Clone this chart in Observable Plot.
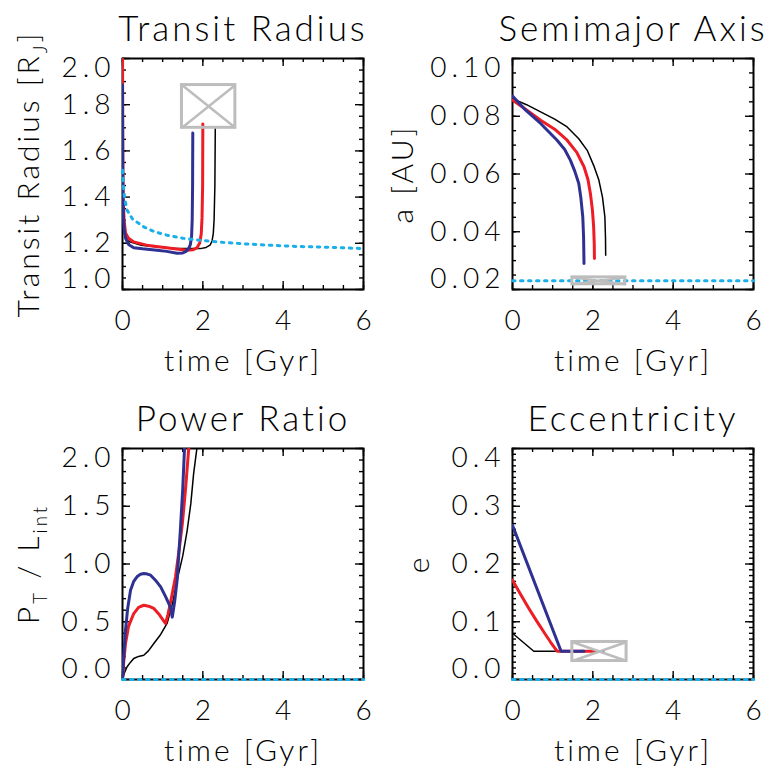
<!DOCTYPE html>
<html>
<head>
<meta charset="utf-8">
<script src="https://cdn.jsdelivr.net/npm/d3@7"></script>
<script src="https://cdn.jsdelivr.net/npm/@observablehq/plot@0.6"></script>
<style>
  html, body { margin: 0; padding: 0; background: #fff; }
  #root { position: relative; width: 781px; height: 781px; background: #fff; overflow: hidden; }
  #root svg { position: absolute; overflow: visible; background: transparent; }
  #root svg text { font-family: Lato, "Liberation Sans", sans-serif; font-weight: 300; fill: #000; letter-spacing: 3px; }
  #root g[aria-label="title"] text { letter-spacing: 5px; }
  #root g[aria-label="y-axis tick label"] text { letter-spacing: 5px; }
  #root g[aria-label="x-axis tick label"] text { letter-spacing: 0px; }
</style>
</head>
<body>
<div id="root"></div>
<script>
// ---------------- data (time in Gyr) ----------------
const xMajor = [0, 2, 4, 6];
const xDomain = [0, 6];

// Transit radius [R_J]
const radiusTicks = [1.0, 1.2, 1.4, 1.6, 1.8, 2.0];
const radiusBlue = [[0,1.885],[0.005,1.6],[0.01,1.42],[0.02,1.32],[0.04,1.26],[0.08,1.22],[0.15,1.195],[0.28,1.181],[0.5,1.176],[0.86,1.170],[1.1,1.165],[1.36,1.157],[1.5,1.158],[1.58,1.165],[1.65,1.178],[1.69,1.195],[1.72,1.23],[1.735,1.3],[1.745,1.45],[1.75,1.678]];
const radiusRed = [[0,2.1],[0.005,1.7],[0.01,1.5],[0.02,1.38],[0.04,1.3],[0.075,1.245],[0.15,1.222],[0.28,1.206],[0.6,1.192],[0.94,1.184],[1.3,1.176],[1.6,1.170],[1.75,1.172],[1.85,1.180],[1.92,1.2],[1.96,1.24],[1.98,1.31],[1.995,1.45],[2.0,1.716]];
const radiusBlack = [[0,1.5],[0.01,1.38],[0.025,1.3],[0.05,1.24],[0.1,1.215],[0.2,1.205],[0.45,1.192],[0.9,1.184],[1.3,1.179],[1.6,1.177],[1.94,1.177],[2.08,1.182],[2.18,1.192],[2.23,1.21],[2.26,1.242],[2.28,1.3],[2.3,1.45],[2.31,1.697]];
const radiusCyan = [[0,1.516],[0.03,1.43],[0.06,1.39],[0.11,1.345],[0.25,1.305],[0.53,1.271],[0.8,1.25],[1.11,1.235],[1.5,1.222],[1.94,1.213],[2.5,1.204],[3.0,1.198],[3.6,1.192],[4.4,1.186],[5.26,1.182],[6,1.177]];
const radiusBox = [1.48, 2.81, 1.70, 1.885];

// Semimajor axis [AU]
const smaTicks = [0.02, 0.04, 0.06, 0.08, 0.10];
const smaBlue = [[0,0.0870],[0.3,0.0825],[0.7,0.0775],[1.11,0.0717],[1.3,0.0685],[1.44,0.0648],[1.55,0.061],[1.65,0.0567],[1.7,0.052],[1.75,0.0451],[1.77,0.038],[1.78,0.029]];
const smaRed = [[0,0.0856],[0.35,0.0822],[0.7,0.0786],[1.05,0.0755],[1.36,0.0717],[1.6,0.0675],[1.78,0.0625],[1.88,0.058],[1.94,0.0532],[1.99,0.0475],[2.02,0.0417],[2.035,0.036],[2.04,0.0307]];
const smaBlack = [[0,0.0861],[0.35,0.0840],[0.7,0.0815],[1.05,0.0790],[1.36,0.0763],[1.65,0.0722],[1.86,0.0682],[2.02,0.063],[2.15,0.0579],[2.24,0.052],[2.30,0.0451],[2.315,0.038],[2.32,0.0319]];
const smaCyan = [[0,0.023],[6,0.023]];
const smaBox = [1.49, 2.81, 0.0218, 0.0242];

// Power ratio P_T / L_int
const powerTicks = [0.0, 0.5, 1.0, 1.5, 2.0];
const powerBlue = [[0,0],[0.03,0.2],[0.075,0.427],[0.13,0.62],[0.2,0.773],[0.28,0.85],[0.36,0.889],[0.45,0.912],[0.53,0.918],[0.62,0.913],[0.70,0.903],[0.82,0.86],[0.95,0.802],[1.07,0.72],[1.19,0.629],[1.24,0.54],[1.30,0.68],[1.36,0.86],[1.44,1.29],[1.5,1.65],[1.55,2.05]];
const powerRed = [[0,0],[0.03,0.15],[0.075,0.312],[0.15,0.46],[0.28,0.571],[0.4,0.625],[0.53,0.643],[0.65,0.635],[0.78,0.615],[0.92,0.56],[1.07,0.485],[1.13,0.56],[1.19,0.658],[1.32,0.889],[1.42,1.15],[1.49,1.35],[1.57,1.65],[1.66,2.05]];
const powerBlack = [[0,0],[0.05,0.06],[0.115,0.11],[0.2,0.15],[0.28,0.182],[0.4,0.2],[0.53,0.21],[0.65,0.25],[0.78,0.312],[0.95,0.39],[1.11,0.485],[1.24,0.65],[1.36,0.86],[1.5,1.07],[1.61,1.29],[1.7,1.52],[1.77,1.78],[1.87,2.05]];
const powerCyan = [[0,0],[6,0]];

// Eccentricity
const eccTicks = [0.0, 0.1, 0.2, 0.3, 0.4];
const eccBlue = [[0,0.267],[1.21,0.049],[1.78,0.049]];
const eccRed = [[0,0.172],[0.2,0.1475],[0.4,0.124],[0.6,0.1015],[0.8,0.080],[0.95,0.0645],[1.11,0.049],[2.02,0.049]];
const eccBlack = [[0,0.080],[0.53,0.049],[2.27,0.049]];
const eccCyan = [[0,0],[6,0]];
const eccBox = [1.49, 2.84, 0.032, 0.065];

// ---------------- styling ----------------
const BLUE = "#2e3192", RED = "#ee1c25", BLACK = "#000", CYAN = "#1aaeea", GRAY = "#bdbdbd";
const W = 390, H = 390, ML = 122, MR = 27, MT = 58, MB = 101;
const FW = W - ML - MR, FH = H - MT - MB;

function panel(cfg) {
  const {title, ylabel, labelDx, yDomain, yTicks, yMinorStep, xMinorStep, fmt, blue, red, black, cyan, box} = cfg;
  const xMinor = d3.range(xDomain[0], xDomain[1] + 1e-9, xMinorStep);
  const yMinor = d3.range(yDomain[0], yDomain[1] + 1e-9, yMinorStep);
  const tk = {stroke: BLACK, strokeWidth: 1.4};
  const yax = {tickSize: 0, tickPadding: 7, fontSize: 28, label: null, tickFormat: fmt};
  const marks = [
    // minor & major ticks, pointing inward on all four sides
    Plot.ruleX(xMinor, {x: d => d, insetTop: FH - 4, ...tk}),
    Plot.ruleX(xMinor, {x: d => d, insetBottom: FH - 4, ...tk}),
    Plot.ruleX(xMajor, {x: d => d, insetTop: FH - 8, ...tk}),
    Plot.ruleX(xMajor, {x: d => d, insetBottom: FH - 8, ...tk}),
    Plot.ruleY(yMinor, {y: d => d, insetRight: FW - 4, ...tk}),
    Plot.ruleY(yMinor, {y: d => d, insetLeft: FW - 4, ...tk}),
    Plot.ruleY(yTicks, {y: d => d, insetRight: FW - 8, ...tk}),
    Plot.ruleY(yTicks, {y: d => d, insetLeft: FW - 8, ...tk}),
    Plot.frame({stroke: BLACK, strokeWidth: 2}),
    Plot.axisX(xMajor, {tickSize: 0, tickPadding: 21, fontSize: 28, label: null, tickFormat: d => String(d)}),
    Plot.axisY(yTicks.slice(1, -1), yax),
    Plot.axisY(yTicks.slice(-1), {...yax, dy: 10}),
    Plot.axisY(yTicks.slice(0, 1), {...yax, dy: -10}),
    Plot.line(black, {x: d => d[0], y: d => d[1], stroke: BLACK, strokeWidth: 1.5, clip: true}),
    Plot.line(red, {x: d => d[0], y: d => d[1], stroke: RED, strokeWidth: 3, clip: true}),
    Plot.line(blue, {x: d => d[0], y: d => d[1], stroke: BLUE, strokeWidth: 3, clip: true}),
    Plot.line(cyan, {x: d => d[0], y: d => d[1], stroke: CYAN, strokeWidth: 3, strokeDasharray: "2.5,5.5"}),
    Plot.text([title], {text: d => d, frameAnchor: "top", dy: -18, lineAnchor: "bottom", fontSize: 35, ariaLabel: "title"}),
    Plot.text(["time [Gyr]"], {text: d => d, frameAnchor: "bottom", dy: 81, lineAnchor: "bottom", fontSize: 30, ariaLabel: "xlabel"}),
    Plot.text([ylabel], {text: d => d, frameAnchor: "left", dx: -labelDx, rotate: -90, textAnchor: "middle", lineAnchor: "bottom", fontSize: 30, ariaLabel: "ylabel"})
  ];
  if (box) {
    const b = [{x1: box[0], x2: box[1], y1: box[2], y2: box[3]}];
    marks.push(
      Plot.rect(b, {x1: "x1", x2: "x2", y1: "y1", y2: "y2", fill: "none", stroke: GRAY, strokeWidth: 3}),
      Plot.link(b, {x1: "x1", y1: "y1", x2: "x2", y2: "y2", stroke: GRAY, strokeWidth: 2.5}),
      Plot.link(b, {x1: "x1", y1: "y2", x2: "x2", y2: "y1", stroke: GRAY, strokeWidth: 2.5})
    );
  }
  const svg = Plot.plot({
    width: W, height: H, marginLeft: ML, marginRight: MR, marginTop: MT, marginBottom: MB,
    x: {domain: xDomain},
    y: {domain: yDomain},
    marks
  });
  subscriptify(svg);
  return svg;
}

// turn "X_{sub}" into real subscript tspans
function subscriptify(svg) {
  d3.select(svg).selectAll("text").each(function () {
    const s = this.textContent;
    if (!s.includes("_{")) return;
    const fs = 30;
    const parts = s.split(/_\{([^}]*)\}/);
    this.textContent = "";
    const el = d3.select(this);
    const shift = fs * 0.28;
    parts.forEach((p, i) => {
      if (p === "") { return; }
      const t = el.append("tspan").text(p);
      if (i % 2 === 1) {
        t.attr("font-size", fs * 0.62).attr("dy", shift);
      } else if (i > 0) {
        t.attr("dy", -shift);
      }
    });
  });
}

const root = document.getElementById("root");
const panels = [
  {pos: [0, 0], title: "Transit Radius", ylabel: "Transit Radius [R_{J}]", labelDx: 84, yDomain: [1.0, 2.0], yTicks: radiusTicks, yMinorStep: 0.05, xMinorStep: 0.5, fmt: d => d.toFixed(1), blue: radiusBlue, red: radiusRed, black: radiusBlack, cyan: radiusCyan, box: radiusBox},
  {pos: [390, 0], title: "Semimajor Axis", ylabel: "a [AU]", labelDx: 100, yDomain: [0.02, 0.10], yTicks: smaTicks, yMinorStep: 0.005, xMinorStep: 0.5, fmt: d => d.toFixed(2), blue: smaBlue, red: smaRed, black: smaBlack, cyan: smaCyan, box: smaBox},
  {pos: [0, 390], title: "Power Ratio", ylabel: "P_{T} / L_{int}", labelDx: 84, yDomain: [0, 2.0], yTicks: powerTicks, yMinorStep: 0.1, xMinorStep: 0.5, fmt: d => d.toFixed(1), blue: powerBlue, red: powerRed, black: powerBlack, cyan: powerCyan, box: null},
  {pos: [390, 390], title: "Eccentricity", ylabel: "e", labelDx: 84, yDomain: [0, 0.4], yTicks: eccTicks, yMinorStep: 0.01, xMinorStep: 0.5, fmt: d => d.toFixed(1), blue: eccBlue, red: eccRed, black: eccBlack, cyan: eccCyan, box: eccBox}
];
for (const p of panels) {
  const svg = panel(p);
  svg.style.left = p.pos[0] + "px";
  svg.style.top = p.pos[1] + "px";
  root.appendChild(svg);
}
</script>
</body>
</html>
